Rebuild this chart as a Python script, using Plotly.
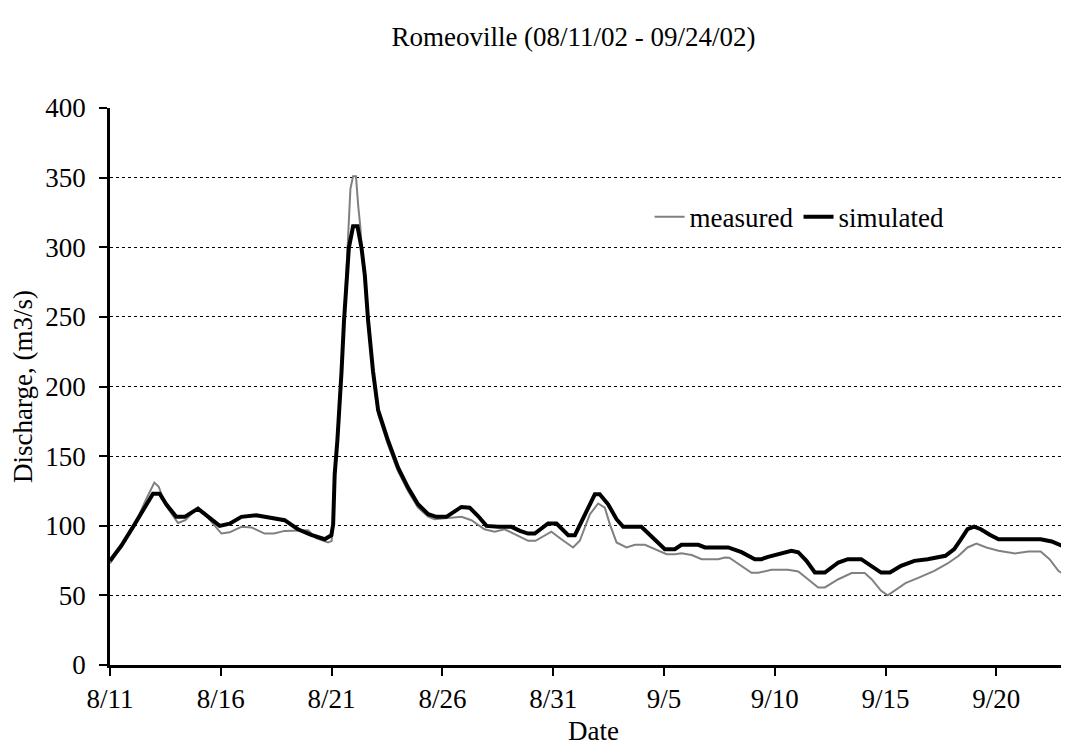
import pandas as pd
import plotly.graph_objects as go

# ---- data (days after 2002-08-11 00:00, discharge m3/s) ----
meas_days = [0, 0.5, 1.1, 1.6, 2.0, 2.2, 2.5, 3.07, 3.4, 3.97, 4.4, 5.03, 5.4, 5.93, 6.4,
             6.98, 7.4, 7.88, 8.94, 9.3, 9.84, 10.0, 10.07, 10.14, 10.26, 10.37, 10.45,
             10.56, 10.67, 10.75, 10.85, 10.97, 11.1, 11.2, 11.3, 11.4, 11.5, 11.65, 11.87,
             12.1, 12.55, 13.0, 13.45, 13.9, 14.36, 14.65, 15.86, 16.31, 16.9, 17.36, 17.81,
             18.42, 18.87, 19.2, 19.92, 20.37, 20.9, 21.2, 21.66, 22.03, 22.33, 22.56, 22.86,
             23.31, 23.69, 24.14, 24.74, 25.12, 25.5, 25.79, 26.25, 26.7, 27.45, 27.75, 27.95,
             28.5, 28.95, 29.25, 29.85, 30.6, 31.06, 31.5, 31.96, 32.26, 32.87, 33.47, 34.06,
             34.37, 34.8, 35.1, 35.4, 35.9, 36.5, 37.2, 37.8, 38.3, 38.7, 39.1, 39.55, 40.1,
             40.85, 41.45, 42.0, 42.4, 42.8, 43.25, 43.65]
meas_vals = [73, 85, 100, 118, 131, 128, 115, 102, 104, 113, 106, 94.4, 95.3, 99.2, 98.7,
             94.4, 94.4, 96.3, 96.8, 91.1, 88, 89, 101, 137, 161, 185, 211,
             250, 282, 314, 342, 351, 351, 330, 314, 290, 276, 245, 209,
             180, 158, 139, 125, 113, 106.6, 104.7, 106.4, 104, 97.5, 95.8, 97.5,
             92.7, 89.2, 89.2, 95.8, 90.3, 84.4, 89.2, 108.3, 116, 113, 101, 88,
             84.4, 86.3, 86.3, 82, 79.6, 79.6, 80.3, 79, 76, 76, 77.2, 77,
             70.8, 66.2, 66.2, 68.4, 68.4, 67.1, 61.6, 55.7, 55.7, 61.6, 66, 66,
             61.6, 53.3, 50.1, 53.3, 58.8, 62.8, 67.6, 72.9, 78.4, 84.4, 87.2, 84.4, 82,
             80.1, 81.5, 81.5, 76, 67.6, 62.8, 56.9]

sim_days = [0, 0.51, 1.11, 1.57, 1.94, 2.24, 2.54, 2.99, 3.37, 3.97, 4.42, 4.95, 5.4, 5.93,
            6.6, 7.28, 7.88, 8.48, 9.08, 9.69, 9.99, 10.07, 10.14, 10.26, 10.37, 10.45, 10.56,
            10.67, 10.78, 10.97, 11.17, 11.35, 11.5, 11.65, 11.87, 12.1, 12.55, 13.0, 13.45,
            13.9, 14.36, 14.73, 15.18, 15.86, 16.23, 16.61, 16.99, 17.52, 18.12, 18.5, 18.87,
            19.17, 19.77, 20.15, 20.52, 20.68, 20.98, 21.43, 21.88, 22.1, 22.48, 22.86, 23.16,
            23.98, 24.59, 25.04, 25.49, 25.79, 26.55, 26.85, 27.9, 28.5, 29.1, 29.4, 29.7,
            30.3, 30.75, 31.06, 31.43, 31.81, 32.26, 32.87, 33.3, 33.9, 34.2, 34.8, 35.2,
            35.7, 36.3, 36.9, 37.7, 38.1, 38.4, 38.7, 39.0, 39.3, 39.7, 40.1, 41.0, 42.0,
            42.5, 42.96, 43.25, 43.65]
sim_vals = [74.8, 85.6, 101, 114, 123, 123, 115.4, 106.4, 106.4, 112.3, 107, 99.9, 101.5, 106.4,
            107.5, 105.9, 104, 97.5, 93.5, 90.3, 93.2, 101, 137, 161, 185, 211, 247,
            271, 299.6, 315, 315, 299.6, 280, 247, 211, 183, 161, 141.7, 127.4,
            115.4, 108.3, 106.4, 106.4, 113.5, 113, 107, 99.9, 99.2, 99.2, 96.3, 94.4,
            94.4, 101.6, 101.6, 95.1, 93.2, 93.2, 108.3, 122.6, 122.6, 115.4, 104.7, 99.2,
            99.2, 89.6, 83.2, 83.2, 86.3, 86.3, 84.4, 84.4, 81, 76, 76, 77.7,
            80.1, 82, 81, 74.8, 66.4, 66.4, 73.6, 76, 76, 72.9, 66.4, 66.4,
            71.2, 74.8, 76, 78.4, 83.2, 90.3, 97.5, 99.4, 97.5, 93.5, 90.3, 90.3, 90.3,
            88.7, 85.6, 81.5, 75.3]

tick_dates = ["2002-08-11", "2002-08-16", "2002-08-21", "2002-08-26", "2002-08-31",
              "2002-09-05", "2002-09-10", "2002-09-15", "2002-09-20"]
tick_text = ["8/11", "8/16", "8/21", "8/26", "8/31", "9/5", "9/10", "9/15", "9/20"]
y_ticks = [0, 50, 100, 150, 200, 250, 300, 350, 400]

start = pd.Timestamp("2002-08-11")
meas_x = start + pd.to_timedelta(meas_days, unit="D")
sim_x = start + pd.to_timedelta(sim_days, unit="D")
x_end = start + pd.to_timedelta(43.64, unit="D")

FONT = "Liberation Serif, Times New Roman, serif"
FS = 27

fig = go.Figure()
fig.add_trace(go.Scatter(x=meas_x, y=meas_vals, mode="lines", name="measured",
                         line=dict(color="#808080", width=2)))
fig.add_trace(go.Scatter(x=sim_x, y=sim_vals, mode="lines", name="simulated",
                         line=dict(color="#000000", width=4)))

fig.update_layout(
    width=1069, height=748,
    margin=dict(l=102, r=0, t=100, b=91),
    paper_bgcolor="white", plot_bgcolor="white",
    font=dict(family=FONT, size=FS, color="black"),
    title=dict(text="Romeoville (08/11/02 - 09/24/02)", x=0.529, xanchor="center",
               y=0.962, yanchor="middle", font=dict(family=FONT, size=FS, color="black")),
    showlegend=True,
    legend=dict(orientation="h", x=0.558, xanchor="left", y=0.804, yanchor="middle",
                bgcolor="rgba(0,0,0,0)", font=dict(family=FONT, size=FS, color="black"),
                itemwidth=30, tracegroupgap=0),
)
fig.update_xaxes(
    type="date", range=[start, x_end],
    tickmode="array", tickvals=tick_dates, ticktext=tick_text,
    ticks="outside", ticklen=8, tickwidth=2, tickcolor="black",
    showline=True, linecolor="black", linewidth=2.5,
    showgrid=False, zeroline=False,
    title=dict(text="Date", font=dict(family=FONT, size=FS), standoff=8),
)
fig.update_yaxes(
    range=[0, 400], tickmode="array", tickvals=y_ticks,
    ticks="outside", ticklen=8, tickwidth=2, tickcolor="black",
    ticklabelstandoff=8,
    showline=True, linecolor="black", linewidth=2.5,
    showgrid=True, gridcolor="black", gridwidth=1, griddash="dot",
    zeroline=False,
    title=dict(text="Discharge, (m3/s)", font=dict(family=FONT, size=FS), standoff=8),
)

fig.write_html("out.html")
